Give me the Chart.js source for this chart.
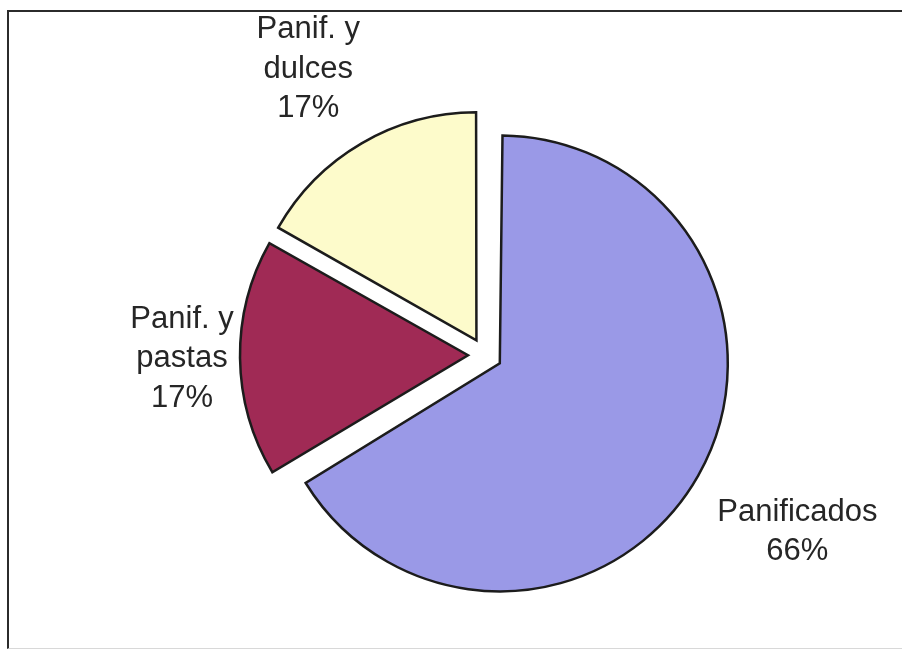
<!DOCTYPE html>
<html>
<head>
<meta charset="utf-8">
<script src="https://cdn.jsdelivr.net/npm/chart.js@4/dist/chart.umd.min.js"></script>
<style>
    html, body { margin: 0; padding: 0; background: #fff; }
    #frame {
        position: absolute; left: 7px; top: 10px; width: 900px; height: 636px;
        border-left: 2px solid #2b2b2b; border-top: 2px solid #2b2b2b;
        border-bottom: 1px solid #d8d8d8;
    }
    #chart { position: absolute; left: 0; top: 0; }
</style>
</head>
<body>
<div id="frame"></div>
<canvas id="chart" width="902" height="649"></canvas>
<script>
// data
const categories = ['Panificados', 'Panif. y pastas', 'Panif. y dulces'];
const labelLines = [['Panificados'], ['Panif. y', 'pastas'], ['Panif. y', 'dulces']];
const shares = [66.4, 16.8, 16.8];
const sliceColors = ['#9a99e7', '#a02a55', '#fdfbcb'];

// label centre: distance from the slice apex along its bisector, plus a small sideways nudge
const labelDistance = [342, 286, 314];
const labelNudgeX = [0, 0, -10];

/**
 * Chart.js grows the radius of an exploded slice by part of its offset;
 * undo that so all slices keep the same radius like the original.
 */
const evenRadius = {
    id: 'evenRadius',
    afterDatasetsUpdate(chart) {
        chart.getDatasetMeta(0).data.forEach(arc => {
            const circ = arc.endAngle - arc.startAngle;
            const fix = 1 - Math.sin(Math.min(Math.PI, circ));
            arc.outerRadius -= (arc.options.offset || 0) / 4 * fix;
        });
    }
};

/**
 * Draw the outside labels (name + percentage).
 */
const outsideLabels = {
    id: 'outsideLabels',
    afterDatasetsDraw(chart) {
        const ctx = chart.ctx;
        const meta = chart.getDatasetMeta(0);
        const total = shares.reduce((a, b) => a + b, 0);
        ctx.save();
        ctx.font = '31px "Liberation Sans", Arial, sans-serif';
        ctx.fillStyle = '#262626';
        ctx.textAlign = 'center';
        ctx.textBaseline = 'middle';
        const lineHeight = 39.5;
        meta.data.forEach((arc, i) => {
            const mid = (arc.startAngle + arc.endAngle) / 2;
            const shift = (arc.options.offset || 0) / 4 + labelDistance[i];
            const cx = arc.x + Math.cos(mid) * shift + labelNudgeX[i];
            const cy = arc.y + Math.sin(mid) * shift;
            const lines = labelLines[i].concat([Math.round(shares[i] / total * 100) + '%']);
            lines.forEach((line, j) => {
                ctx.fillText(line, cx, cy + (j - (lines.length - 1) / 2) * lineHeight);
            });
        });
        ctx.restore();
    }
};

new Chart(document.getElementById('chart').getContext('2d'), {
    type: 'pie',
    data: {
        labels: categories,
        datasets: [{
            data: shares,
            backgroundColor: sliceColors,
            borderColor: '#1c1c1c',
            borderWidth: 2.5,
            borderJoinStyle: 'miter',
            offset: 68,
            radius: 228
        }]
    },
    options: {
        responsive: false,
        animation: false,
        events: [],
        layout: {
            padding: { left: 68, right: 0, top: 61, bottom: 0 }
        },
        plugins: {
            legend: { display: false },
            tooltip: { enabled: false }
        }
    },
    plugins: [evenRadius, outsideLabels]
});
</script>
</body>
</html>
